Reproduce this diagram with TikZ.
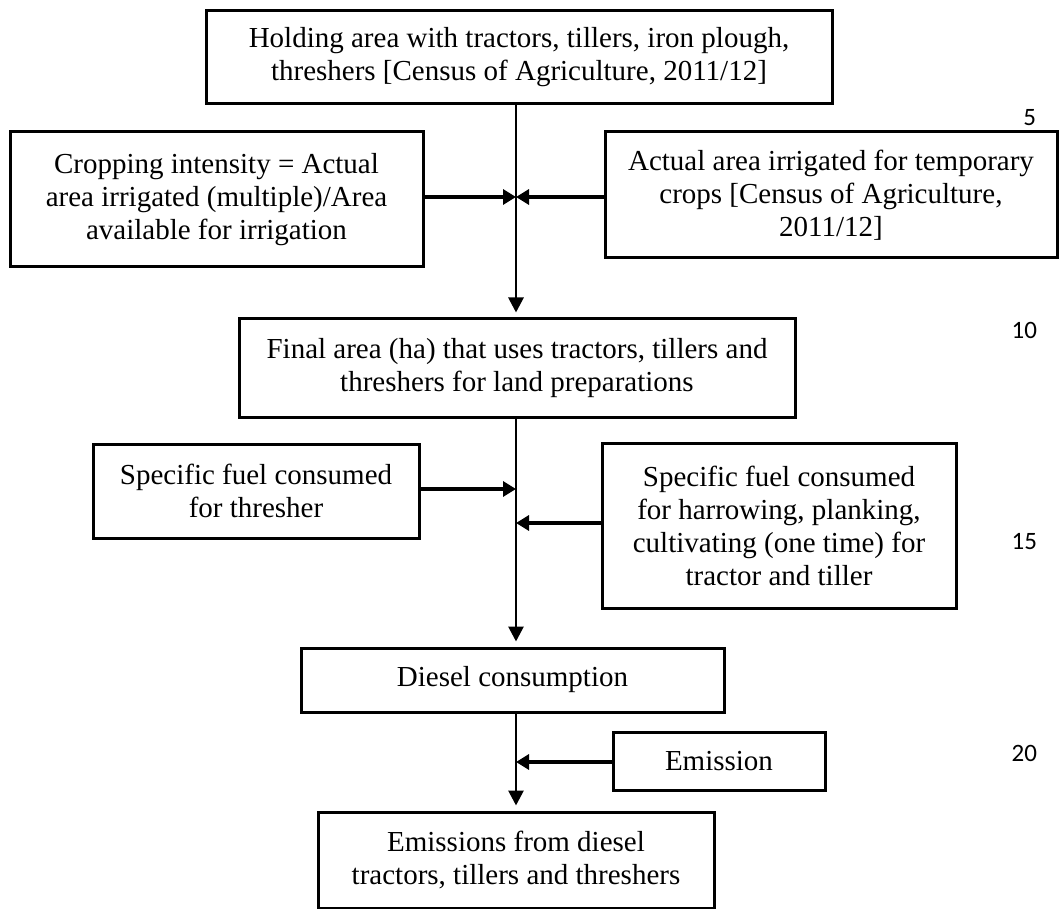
\documentclass[tikz,border=0pt]{standalone}
\usepackage{fontspec}
\setmainfont{Liberation Serif}
\newfontfamily\numfont{Carlito}
\usetikzlibrary{arrows.meta, positioning, calc}

\begin{document}
\begin{tikzpicture}[
    x=0.5pt, y=-0.5pt,
    box/.style={rectangle, draw=black, line width=1.5pt, align=center, inner sep=0pt, font=\fontsize{14.5}{16.5}\selectfont},
    flow/.style={-{Triangle[length=7.5pt, width=7.5pt]}, line width=1.4pt, shorten >=2.5pt},
    feed/.style={-{Triangle[length=6.5pt, width=7.5pt]}, line width=1.6pt},
    lineno/.style={anchor=east, font=\numfont\fontsize{12.5}{14}\selectfont},
]
\useasboundingbox (0,0) rectangle (1061,909);

\node[box, minimum width=313pt, minimum height=46.5pt] (hold) at (519,57.5) {Holding area with tractors, tillers, iron plough,\\threshers [Census of Agriculture, 2011/12]};
\node[box, minimum width=206.5pt, minimum height=67.5pt] (crop) at (216.5,199.5) {Cropping intensity = Actual\\area irrigated (multiple)/Area\\available for irrigation};
\node[box, minimum width=226pt, minimum height=63pt] (irrig) at (831,195) {Actual area irrigated for temporary\\crops [Census of Agriculture,\\2011/12]};
\node[box, minimum width=278pt, minimum height=49.5pt] (final) at (517,368.5) {Final area (ha) that uses tractors, tillers and\\threshers for land preparations};
\node[box, minimum width=163pt, minimum height=47pt] (thresh) at (256,491) {Specific fuel consumed\\for thresher};
\node[box, minimum width=177pt, minimum height=82.5pt] (harrow) at (779,525.5) {Specific fuel consumed\\for harrowing, planking,\\cultivating (one time) for\\tractor and tiller};
\node[box, minimum width=211.5pt, minimum height=32pt] (diesel) at (512.5,680) {Diesel consumption};
\node[box, minimum width=106pt, minimum height=29pt] (emis) at (719,761) {Emission};
\node[box, minimum width=198pt, minimum height=48pt] (out) at (516,860) {Emissions from diesel\\tractors, tillers and threshers};

% junctions on the main line
\coordinate (j1) at (516,197);
\coordinate (j2) at (516,489);
\coordinate (j3) at (516,523);
\coordinate (j4) at (516,762);

\draw[flow] (hold.south -| j1) -- (final.north -| j1);
\draw[feed] (crop.east |- j1) -- (j1);
\draw[feed] (irrig.west |- j1) -- (j1);
\draw[flow] (final.south -| j1) -- (diesel.north -| j1);
\draw[feed] (thresh.east |- j2) -- (j2);
\draw[feed] (harrow.west |- j3) -- (j3);
\draw[flow] (diesel.south -| j1) -- (out.north -| j1);
\draw[feed] (emis.west |- j4) -- (j4);

% line numbers
\node[lineno] (n5) at (1043,118) {5};
\node[lineno] (n10) at (1044,330) {10};
\node[lineno] (n15) at (1044,542) {15};
\node[lineno] (n20) at (1044,753) {20};
\end{tikzpicture}
\end{document}
